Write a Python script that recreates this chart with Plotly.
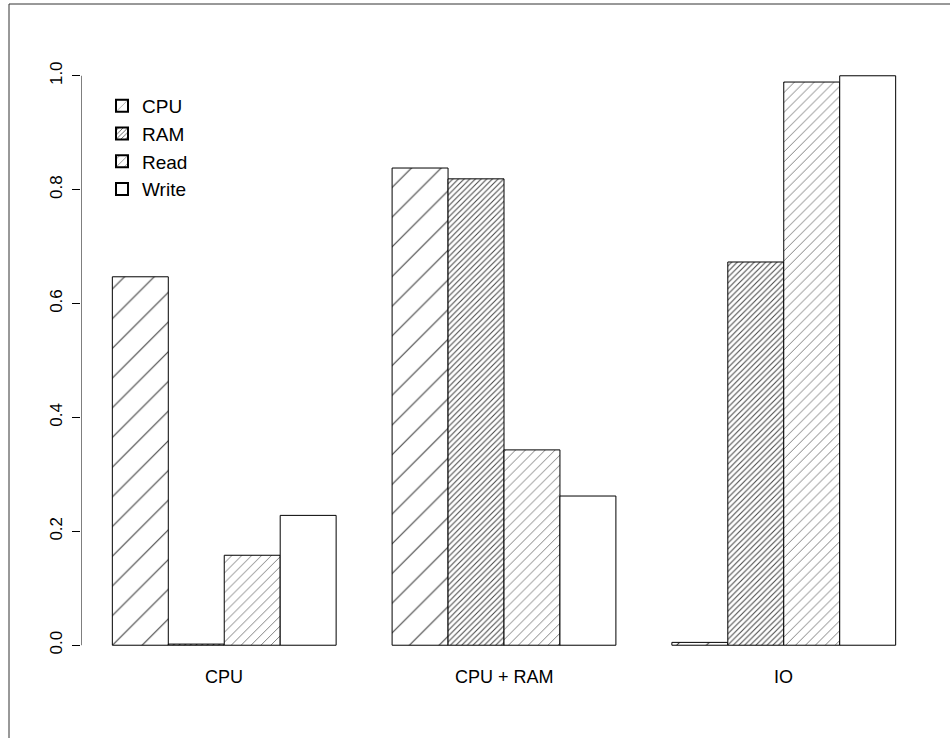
import plotly.graph_objects as go

# Workload groups and the normalised score of each resource per group
groups = ["CPU", "CPU + RAM", "IO"]
series = ["CPU", "RAM", "Read", "Write"]
cpu_vals = [0.647, 0.838, 0.005]
ram_vals = [0.002, 0.819, 0.673]
read_vals = [0.158, 0.343, 0.989]
write_vals = [0.228, 0.262, 1.000]
y_ticks = [0.0, 0.2, 0.4, 0.6, 0.8, 1.0]

values = [cpu_vals, ram_vals, read_vals, write_vals]

# hatching per series: (shape, spacing, solidity, line colour)
hatch = [("/", 21, 0.05, "#3c3c3c"), ("/", 4, 0.25, "#444444"),
         ("/", 7, 0.12, "#6a6a6a"), ("", 8, 0.2, "#000000")]

W, H = 950, 738
L, R, T, B = 81, 23, 53, 70
pw, ph = W - L - R, H - T - B

n = len(series)
fig = go.Figure()
for k, (name, vals) in enumerate(zip(series, values)):
    shape, size, sol, fg = hatch[k]
    xs = [g * (n + 1) + 1 + k + 0.5 for g in range(len(groups))]
    fig.add_trace(go.Bar(
        x=xs, y=vals, name=name, width=1.0,
        marker=dict(
            color="white",
            line=dict(color="black", width=1),
            pattern=dict(shape=shape, size=size, solidity=sol,
                         fgcolor=fg, fgopacity=1, bgcolor="white",
                         fillmode="overlay"),
        ),
    ))

centers = [g * (n + 1) + 1 + n / 2 for g in range(len(groups))]
x_lo = 1 - 0.04 * (len(groups) * (n + 1) - 1)
x_hi = len(groups) * (n + 1) + 0.04 * (len(groups) * (n + 1) - 1)


def px_x(p):
    return (p - L) / pw


def px_y(p):
    return (H - B - p) / ph


# group names under each cluster of bars
group_labels = [
    dict(x=c, y=px_y(677), xref="x", yref="paper", text=g, showarrow=False,
         xanchor="center", yanchor="middle", font=dict(size=18))
    for c, g in zip(centers, groups)
]

fig.update_layout(
    width=W, height=H,
    margin=dict(l=L, r=R, t=T, b=B),
    paper_bgcolor="white", plot_bgcolor="white",
    barmode="overlay",
    font=dict(family="Liberation Sans, Arial, sans-serif", color="black", size=17),
    showlegend=True,
    legend=dict(
        x=px_x(102), y=px_y(87), xanchor="left", yanchor="top",
        bgcolor="rgba(0,0,0,0)", font=dict(size=19),
        tracegroupgap=0, itemsizing="constant",
    ),
    xaxis=dict(
        range=[x_lo, x_hi], showticklabels=False,
        showgrid=False, zeroline=False, showline=False, ticks="",
    ),
    yaxis=dict(
        range=[-0.04, 1.04], tickvals=y_ticks,
        ticktext=[f"{v:.1f}" for v in y_ticks],
        showgrid=False, zeroline=False, showline=False,
        ticks="outside", ticklen=8, tickcolor="black", tickwidth=1,
        tickangle=-90, tickfont=dict(size=17), ticklabelstandoff=3,
    ),
    annotations=group_labels,
    shapes=[
        # y-axis line spanning the tick range only
        dict(type="line", xref="x", yref="y", x0=x_lo, x1=x_lo,
             y0=y_ticks[0], y1=y_ticks[-1], line=dict(color="black", width=1)),
        # outer frame (top and left edges)
        dict(type="line", xref="paper", yref="paper", x0=px_x(9), x1=px_x(W + 5),
             y0=px_y(4), y1=px_y(4), line=dict(color="#333333", width=1)),
        dict(type="line", xref="paper", yref="paper", x0=px_x(9), x1=px_x(9),
             y0=px_y(4), y1=px_y(H + 5), line=dict(color="#333333", width=1)),
    ],
)

fig.write_html("out.html")
